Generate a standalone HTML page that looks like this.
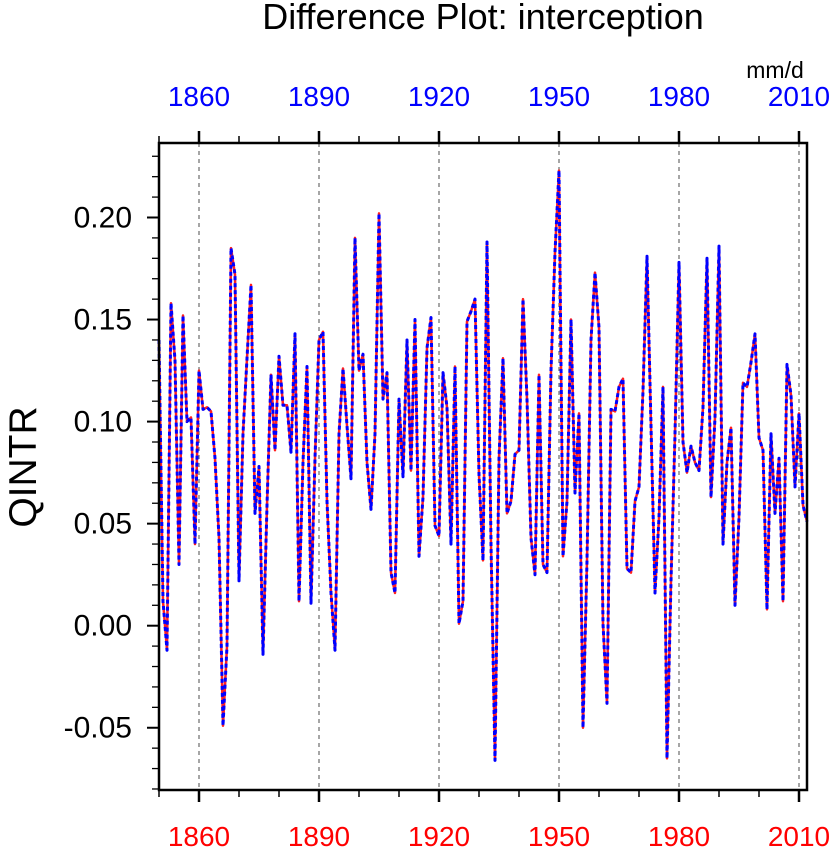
<!DOCTYPE html>
<html><head><meta charset="utf-8"><style>
html,body{margin:0;padding:0;background:#fff;}
svg text{font-family:"Liberation Sans",Arial,sans-serif;}
</style></head><body>
<svg id="chart" width="831" height="851" viewBox="0 0 831 851" xmlns="http://www.w3.org/2000/svg">
<text x="483" y="29" font-size="36" text-anchor="middle">Difference Plot: interception</text>
<text x="775" y="78" font-size="23" text-anchor="middle">mm/d</text>
<text transform="translate(36,467) rotate(-90)" font-size="39" text-anchor="middle">QINTR</text>
<g id="grid"></g>
<g id="axes"></g>
<g id="series"></g>
<rect x="159" y="143" width="648" height="647" fill="none" stroke="#000" stroke-width="2.5"/>
</svg>
<script>
const startYear = 1850;
const values = [0.14,0.012,-0.012,0.158,0.13,0.03,0.152,0.10,0.102,0.04,
0.125,0.106,0.107,0.105,0.082,0.043,-0.049,-0.01,0.185,0.172,
0.022,0.094,0.131,0.167,0.055,0.078,-0.014,0.059,0.123,0.086,
0.132,0.108,0.108,0.085,0.143,0.012,0.08,0.127,0.011,0.082,
0.14,0.144,0.061,0.016,-0.012,0.094,0.126,0.098,0.072,0.19,
0.125,0.133,0.08,0.057,0.094,0.202,0.111,0.124,0.026,0.016,
0.111,0.073,0.14,0.076,0.15,0.034,0.063,0.136,0.151,0.049,
0.044,0.124,0.107,0.04,0.127,0.001,0.012,0.149,0.154,0.16,
0.074,0.032,0.188,0.04,-0.066,0.082,0.131,0.055,0.061,0.084,
0.086,0.16,0.111,0.043,0.025,0.123,0.03,0.026,0.125,0.183,
0.223,0.034,0.061,0.15,0.065,0.104,-0.05,0.032,0.14,0.173,
0.146,0.001,-0.038,0.106,0.105,0.117,0.121,0.028,0.026,0.061,
0.068,0.115,0.181,0.098,0.016,0.053,0.117,-0.065,0.022,0.094,
0.178,0.09,0.075,0.088,0.08,0.076,0.107,0.18,0.063,0.102,
0.186,0.04,0.08,0.097,0.01,0.053,0.119,0.117,0.129,0.143,
0.092,0.086,0.008,0.094,0.055,0.082,0.012,0.128,0.113,0.068,
0.104,0.059,0.051];
const yTicks = [-0.05,0.00,0.05,0.10,0.15,0.20];
const yTickLabels = ["-0.05","0.00","0.05","0.10","0.15","0.20"];
const xTicks = [1860,1890,1920,1950,1980,2010];
const xTickLabels = ["1860","1890","1920","1950","1980","2010"];

const NS="http://www.w3.org/2000/svg";
const X0=159,X1=807,Y0=143,Y1=790;
const xMin=1850,xMax=2012,yMin=-0.0805,yMax=0.2365;
function xs(v){return X0+(v-xMin)/(xMax-xMin)*(X1-X0);}
function ys(v){return Y1-(v-yMin)/(yMax-yMin)*(Y1-Y0);}
function mk(tag,attrs,parent){const e=document.createElementNS(NS,tag);for(const k in attrs)e.setAttribute(k,attrs[k]);parent.appendChild(e);return e;}
const grid=document.getElementById('grid'),axes=document.getElementById('axes'),series=document.getElementById('series');

xTicks.forEach((t,i)=>{
  const g=mk('line',{x1:xs(t),x2:xs(t),y1:Y0,y2:Y1,stroke:'#777','stroke-width':1.3,'stroke-dasharray':'4 4'},grid);
  
  
  const b=mk('text',{x:xs(t),y:846,'font-size':28,'text-anchor':'middle',fill:'#f00'},axes);
  b.textContent=xTickLabels[i];
  
  
  const tp=mk('text',{x:xs(t),y:106,'font-size':28,'text-anchor':'middle',fill:'#00f'},axes);
  tp.textContent=xTickLabels[i];
  
  
});
for(let yr=1850;yr<=2012;yr+=10){
  const major=(yr-1860)%30===0;
  const len=major?12:7;
  const a=mk('line',{x1:xs(yr),x2:xs(yr),y1:Y1,y2:Y1+len,stroke:'#000','stroke-width':major?2.5:1.5},axes);
  
  
  const b=mk('line',{x1:xs(yr),x2:xs(yr),y1:Y0,y2:Y0-len,stroke:'#000','stroke-width':major?2.5:1.5},axes);
  
  
}
for(let k=-8;k<=23;k++){
  const v=k/100;
  const major=k%5===0;
  const l=mk('line',{x1:X0-(major?12:7),x2:X0,y1:ys(v),y2:ys(v),stroke:'#000','stroke-width':major?2:1.3},axes);
  
  
}
yTicks.forEach((t,i)=>{
  const tx=mk('text',{x:132,y:ys(t)+10,'font-size':30,'text-anchor':'end'},axes);
  tx.textContent=yTickLabels[i];
  
  
});
const pts=values.map((v,i)=>xs(startYear+i).toFixed(1)+','+ys(v).toFixed(1)).join(' ');
const red=mk('polyline',{points:pts,fill:'none',stroke:'#ff2020','stroke-width':2.5,'stroke-linejoin':'round'},series);


const blue=mk('polyline',{points:pts,fill:'none',stroke:'#0000ff','stroke-width':3,'stroke-dasharray':'4 3','stroke-linejoin':'round'},series);


</script>
</body></html>
